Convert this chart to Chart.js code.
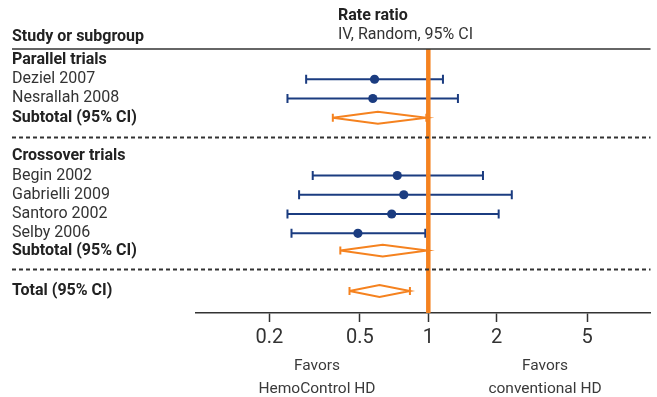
<!DOCTYPE html>
<html>
<head>
<meta charset="utf-8">
<script src="https://cdn.jsdelivr.net/npm/chart.js@4.4.1/dist/chart.umd.min.js"></script>
<style>
  html, body { margin: 0; padding: 0; background: #fff; }
  #wrap { width: 657px; height: 397px; position: relative; }
</style>
</head>
<body>
<div id="wrap"><canvas id="forest"></canvas></div>
<script>
// ---- data ----
const groupNames = ['Parallel trials', 'Crossover trials'];
const groupRows = [1, 6];

const studyNames = ['Deziel 2007', 'Nesrallah 2008', 'Begin 2002', 'Gabrielli 2009', 'Santoro 2002', 'Selby 2006'];
const studyRows = [2, 3, 7, 8, 9, 10];
const studyRatio = [0.58, 0.57, 0.73, 0.78, 0.69, 0.49];
const studyLow = [0.29, 0.24, 0.31, 0.27, 0.24, 0.25];
const studyHigh = [1.16, 1.35, 1.74, 2.33, 2.04, 0.97];

const pooledNames = ['Subtotal (95% CI)', 'Subtotal (95% CI)', 'Total (95% CI)'];
const pooledRows = [4, 10.9, 13];
const pooledRatio = [0.60, 0.63, 0.61];
const pooledLow = [0.38, 0.41, 0.45];
const pooledHigh = [0.98, 0.99, 0.83];

const separatorRows = [5, 11.87];
const tickValues = [0.2, 0.5, 1, 2, 5];

// ---- styles ----
const NAVY = '#1b3c80';
const ORANGE = '#f5821f';
const INK = '#333333';
const FONT = 'Roboto, "Liberation Sans", sans-serif';
const DIAMOND_H = 0.31; // half height of diamonds, in rows

let datasets = [];

// line of no effect (first so it is drawn on top)
datasets.push({
    data: [{ x: 1, y: 0.43 }, { x: 1, y: 14.14 }],
    showLine: true,
    borderColor: ORANGE,
    borderWidth: 4.5,
    pointRadius: 0
});

// study point estimates
datasets.push({
    data: studyRows.map((r, i) => ({ x: studyRatio[i], y: r })),
    pointRadius: 4.6,
    pointBackgroundColor: NAVY,
    pointBorderWidth: 0,
    showLine: false
});

// study confidence intervals with end caps
studyRows.forEach((r, i) => {
    datasets.push({
        data: [{ x: studyLow[i], y: r }, { x: studyHigh[i], y: r }],
        showLine: true,
        borderColor: NAVY,
        borderWidth: 2,
        pointStyle: 'line',
        rotation: 90,
        pointRadius: 4.5,
        pointBorderColor: NAVY,
        pointBorderWidth: 2
    });
});

// pooled diamonds
pooledRows.forEach((r, i) => {
    datasets.push({
        data: [
            { x: pooledLow[i], y: r },
            { x: pooledRatio[i], y: r - DIAMOND_H },
            { x: pooledHigh[i], y: r },
            { x: pooledRatio[i], y: r + DIAMOND_H },
            { x: pooledLow[i], y: r }
        ],
        showLine: true,
        borderColor: ORANGE,
        borderWidth: 2,
        borderJoinStyle: 'miter',
        pointRadius: 0
    });
    datasets.push({
        data: [{ x: pooledLow[i], y: r }, { x: pooledHigh[i], y: r }],
        showLine: false,
        pointStyle: 'line',
        rotation: 90,
        pointRadius: 4,
        pointBorderColor: ORANGE,
        pointBorderWidth: 2
    });
});

// text, header rule and dashed separators
const forestText = {
    id: 'forestText',
    afterDraw(chart) {
        const ctx = chart.ctx;
        const y = chart.scales.y;
        const area = chart.chartArea;
        ctx.save();
        ctx.textBaseline = 'middle';
        ctx.textAlign = 'left';

        // headers
        ctx.fillStyle = '#222';
        ctx.font = 'bold 16px ' + FONT;
        ctx.fillText('Study or subgroup', 12, 37);
        ctx.fillText('Rate ratio', 338, 16);
        ctx.fillStyle = INK;
        ctx.font = '16px ' + FONT;
        ctx.fillText('IV, Random, 95% CI', 338, 35);

        // solid rule under header
        ctx.strokeStyle = '#333';
        ctx.lineWidth = 1.5;
        ctx.beginPath();
        ctx.moveTo(12, area.top);
        ctx.lineTo(area.right, area.top);
        ctx.stroke();

        // dashed separators
        ctx.setLineDash([4, 3]);
        ctx.lineWidth = 2;
        separatorRows.forEach(r => {
            const py = Math.round(y.getPixelForValue(r)) + 0.5;
            ctx.beginPath();
            ctx.moveTo(12, py);
            ctx.lineTo(area.right, py);
            ctx.stroke();
        });
        ctx.setLineDash([]);

        // row labels
        ctx.fillStyle = '#222';
        ctx.font = 'bold 16px ' + FONT;
        groupNames.forEach((n, i) => ctx.fillText(n, 12, y.getPixelForValue(groupRows[i])));
        pooledNames.forEach((n, i) => ctx.fillText(n, 12, y.getPixelForValue(pooledRows[i])));
        ctx.fillStyle = INK;
        ctx.font = '16px ' + FONT;
        studyNames.forEach((n, i) => ctx.fillText(n, 12, y.getPixelForValue(studyRows[i])));

        // favours labels
        ctx.textAlign = 'center';
        ctx.fillStyle = '#3a3a3a';
        ctx.font = '15.5px ' + FONT;
        ctx.fillText('Favors', 317, 366);
        ctx.fillText('HemoControl HD', 317, 389);
        ctx.fillText('Favors', 545, 366);
        ctx.fillText('conventional HD', 545, 389);
        ctx.restore();
    }
};

new Chart(document.getElementById('forest'), {
    type: 'scatter',
    data: { datasets: datasets },
    options: {
        responsive: true,
        maintainAspectRatio: false,
        animation: false,
        layout: { padding: { left: 196, right: 5, top: 49, bottom: 0 } },
        plugins: { legend: { display: false }, tooltip: { enabled: false } },
        scales: {
            x: {
                type: 'logarithmic',
                min: 0.095,
                max: 9.5,
                afterBuildTicks(scale) {
                    scale.ticks = tickValues.map(v => ({ value: v }));
                },
                afterFit(scale) { scale.height = 84; },
                border: { display: true, color: '#333', width: 1.5 },
                grid: {
                    drawOnChartArea: false,
                    drawTicks: true,
                    tickLength: 9,
                    tickColor: '#333',
                    tickWidth: 1.5
                },
                ticks: {
                    color: INK,
                    padding: 4,
                    maxRotation: 0,
                    autoSkip: false,
                    font: { family: FONT, size: 20 },
                    callback: v => String(v)
                }
            },
            y: {
                type: 'linear',
                display: false,
                reverse: true,
                min: 0.43,
                max: 14.14
            }
        }
    },
    plugins: [forestText]
});
</script>
</body>
</html>
